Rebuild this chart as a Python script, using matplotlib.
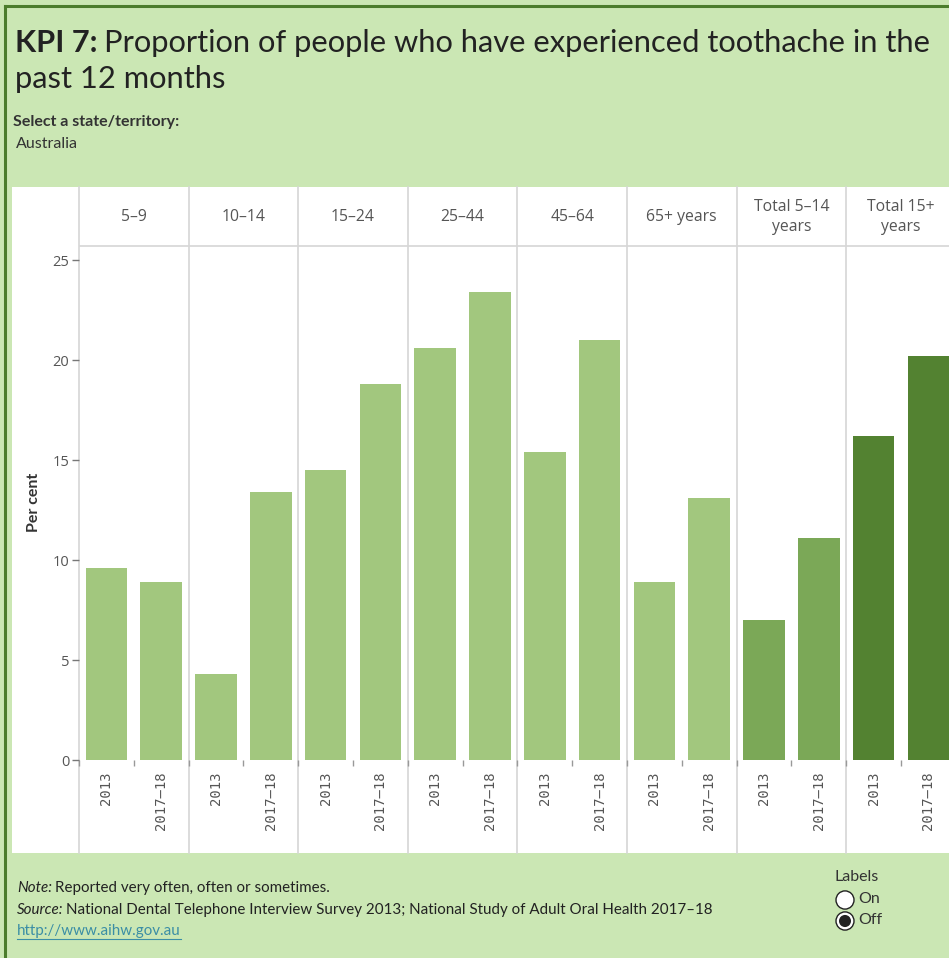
import matplotlib
matplotlib.use("Agg")
import matplotlib.pyplot as plt
from matplotlib.patches import Rectangle, Circle
from matplotlib.lines import Line2D

# ---- data ----
groups = ["5–9", "10–14", "15–24", "25–44", "45–64", "65+ years",
          "Total 5–14\nyears", "Total 15+\nyears"]
periods = ["2013", "2017–18"]
values_2013 = [9.6, 4.3, 14.5, 20.6, 15.4, 8.9, 7.0, 16.2]
values_2017 = [8.9, 13.4, 18.8, 23.4, 21.0, 13.1, 11.1, 20.2]
group_kind = ["age", "age", "age", "age", "age", "age", "child", "adult"]
y_ticks = [0, 5, 10, 15, 20, 25]

W, H = 949, 958
BG = "#cbe7b4"
colors = {"age": "#a2c77e", "child": "#7ba857", "adult": "#538231"}
GRID = "#d6d6d6"

fig = plt.figure(figsize=(W / 100, H / 100), dpi=100)
fig.patch.set_facecolor(BG)


def fx(x):
    return x / W


def fy(y):
    return 1 - y / H


# border
fig.add_artist(Line2D([fx(5), fx(5)], [fy(6), fy(958)], color="#4b7d2c", lw=2.2))
fig.add_artist(Line2D([fx(5), fx(949)], [fy(6), fy(6)], color="#4b7d2c", lw=2.2))

# title
tfont = "Lato"
tfs = 22.2
t1 = fig.text(fx(15), fy(43), "KPI 7:", fontsize=tfs, fontweight="bold",
              family=tfont, color="#222222", va="center", ha="left")
fig.canvas.draw()
r = fig.canvas.get_renderer()
bb = t1.get_window_extent(r)
fig.text(bb.x1 / W + fx(6), fy(43), "Proportion of people who have experienced toothache in the",
         fontsize=tfs, family=tfont, color="#222222", va="center", ha="left")
fig.text(fx(15), fy(79), "past 12 months", fontsize=tfs, family=tfont,
         color="#222222", va="center", ha="left")
fig.text(fx(13), fy(122), "Select a state/territory:", fontsize=11.5, family=tfont,
         fontweight="bold", color="#333333", va="center", ha="left")
fig.text(fx(16), fy(144), "Australia", fontsize=11.5, family=tfont,
         color="#333333", va="center", ha="left")

# white panel
fig.add_artist(Rectangle((fx(12), fy(853)), fx(949) - fx(12), fy(187) - fy(853),
                         transform=fig.transFigure, facecolor="white", edgecolor="none", zorder=0))

n = len(groups)
x_left, x_right = 79, 949
unit = 109.6 / 2
xmax = (x_right - x_left) / unit

# grid/background axes spanning header and label areas
bg = fig.add_axes([fx(x_left), fy(853), fx(x_right) - fx(x_left), fy(187) - fy(853)])
bg.set_xlim(0, xmax)
bg.set_ylim(853, 187)
bg.axis("off")
for i in range(n):
    bg.plot([2 * i, 2 * i], [187, 853], color=GRID, lw=1.2, clip_on=False)
bg.plot([0, xmax], [246, 246], color=GRID, lw=1.2)
for i, g in enumerate(groups):
    bg.text(2 * i + 1, 217, g, ha="center", va="center", fontsize=11.3,
            family="Open Sans", color="#555555", linespacing=1.4)

# bar axes
ax = fig.add_axes([fx(x_left), fy(760), fx(x_right) - fx(x_left), fy(246) - fy(760)])
ax.patch.set_alpha(0)
ax.set_xlim(0, xmax)
ax.set_ylim(0, (760 - 246) / 20.0)
xs13 = [2 * i + 0.5 for i in range(n)]
xs17 = [2 * i + 1.5 for i in range(n)]
cols = [colors[k] for k in group_kind]
ax.bar(xs13, values_2013, width=0.76, color=cols, zorder=3)
ax.bar(xs17, values_2017, width=0.76, color=cols, zorder=3)
for s in ax.spines.values():
    s.set_visible(False)
ax.set_yticks(y_ticks)
ax.set_yticklabels([str(v) for v in y_ticks], fontsize=10.5, family="Open Sans", color="#555555")
ax.tick_params(axis="y", length=5, color="#777777", width=1, pad=2)
ax.set_xticks(xs13 + xs17)
ax.set_xticklabels([periods[0]] * n + [periods[1]] * n, rotation=90, fontsize=10,
                   family="DejaVu Sans Mono", color="#555555")
ax.tick_params(axis="x", length=0, pad=8)
ax.set_xticks([i for i in range(2 * n)], minor=True)
ax.tick_params(axis="x", which="minor", length=4, color="#999999", width=1)
ax.set_ylabel("Per cent", fontsize=11.5, family=tfont, fontweight="bold", color="#333333",
              labelpad=0)
axw = fx(x_right) - fx(x_left)
ax.yaxis.set_label_coords((fx(41) - fx(x_left)) / axw,
                          (fy(502) - fy(760)) / (fy(246) - fy(760)))

# footer
ffs = 10.9
n1 = fig.text(fx(17), fy(888), "Note:", fontsize=ffs, family=tfont, style="italic",
              color="#222222", va="center", ha="left")
fig.canvas.draw()
b = n1.get_window_extent(r)
fig.text(b.x1 / W + fx(3), fy(888), "Reported very often, often or sometimes.", fontsize=ffs,
         family=tfont, color="#222222", va="center", ha="left")
s1 = fig.text(fx(17), fy(910), "Source:", fontsize=ffs, family=tfont, style="italic",
              color="#222222", va="center", ha="left")
fig.canvas.draw()
b = s1.get_window_extent(r)
fig.text(b.x1 / W + fx(3), fy(910),
         "National Dental Telephone Interview Survey 2013; National Study of Adult Oral Health 2017–18",
         fontsize=ffs, family=tfont, color="#222222", va="center", ha="left")
lk = fig.text(fx(17), fy(931), "http://www.aihw.gov.au", fontsize=ffs, family=tfont,
              color="#3b8ea5", va="center", ha="left")
fig.canvas.draw()
b = lk.get_window_extent(r)
fig.add_artist(Line2D([b.x0 / W, b.x1 / W], [fy(939), fy(939)], color="#3b8ea5", lw=0.8))

# Labels radio
fig.text(fx(835), fy(877), "Labels", fontsize=11.5, family=tfont, color="#333333",
         va="center", ha="left")
fig.add_artist(Circle((fx(845), fy(900)), 9 / W, transform=fig.transFigure,
                      facecolor="white", edgecolor="#222222", lw=1.0))
fig.text(fx(858), fy(899), "On", fontsize=11.5, family=tfont, color="#333333",
         va="center", ha="left")
fig.add_artist(Circle((fx(845), fy(921)), 9 / W, transform=fig.transFigure,
                      facecolor="white", edgecolor="#222222", lw=1.0))
fig.add_artist(Circle((fx(845), fy(921)), 6 / W, transform=fig.transFigure,
                      facecolor="#222222", edgecolor="none"))
fig.text(fx(858), fy(920), "Off", fontsize=11.5, family=tfont, color="#333333",
         va="center", ha="left")

fig.savefig("out.png", dpi=100, facecolor=BG)
